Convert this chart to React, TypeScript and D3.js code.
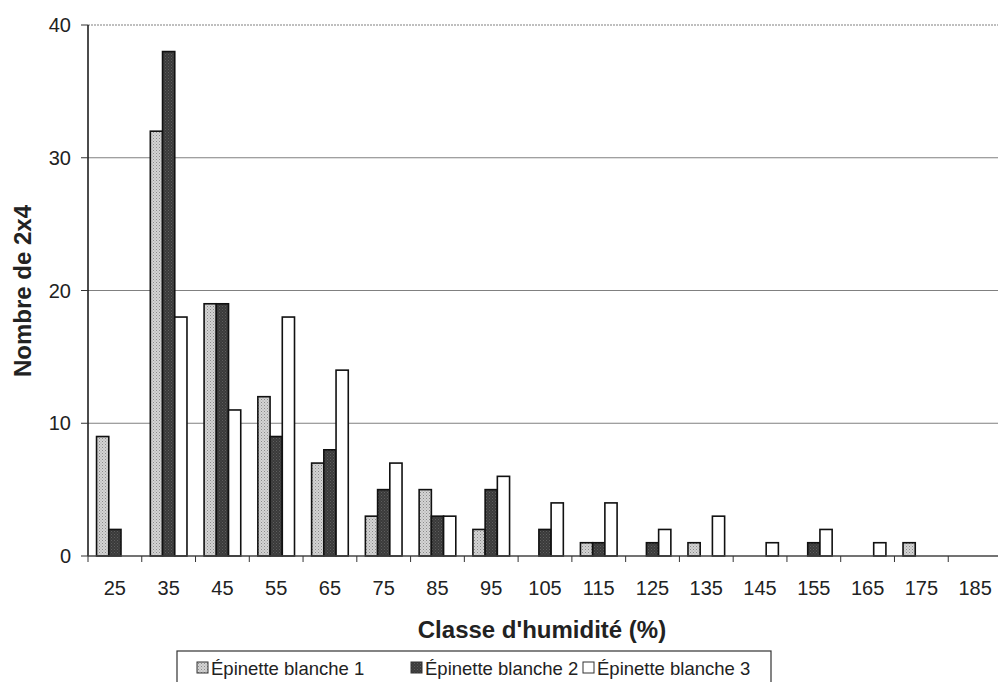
import React from "react";
import * as d3 from "d3";

const categories = ["25", "35", "45", "55", "65", "75", "85", "95", "105", "115", "125", "135", "145", "155", "165", "175", "185"];
const serie1 = [9, 32, 19, 12, 7, 3, 5, 2, 0, 1, 0, 1, 0, 0, 0, 1, 0];
const serie2 = [2, 38, 19, 9, 8, 5, 3, 5, 2, 1, 1, 0, 0, 1, 0, 0, 0];
const serie3 = [0, 18, 11, 18, 14, 7, 3, 6, 4, 4, 2, 3, 1, 2, 1, 0, 0];
const seriesNames = ["Épinette blanche 1", "Épinette blanche 2", "Épinette blanche 3"];
const yTicks = [0, 10, 20, 30, 40];

const W = 998;
const H = 682;
const left = 88;
const right = 1002;
const top = 25;
const bottom = 556;
const font = "'Liberation Sans', Arial, sans-serif";

export default function App() {
  const x = d3.scaleBand<string>().domain(categories).range([left, right]).paddingInner(0).paddingOuter(0);
  const y = d3.scaleLinear().domain([0, 40]).range([bottom, top]);
  const bw = x.bandwidth();
  const barW = bw / 4.4;
  const groupW = barW * 3;
  const series = [serie1, serie2, serie3];
  const fills = ["url(#pat1)", "url(#pat2)", "#ffffff"];

  const legendItems = [
    { x: 197, label: seriesNames[0], fill: fills[0] },
    { x: 411, label: seriesNames[1], fill: fills[1] },
    { x: 583, label: seriesNames[2], fill: fills[2] },
  ];

  return (
    <svg width={W} height={H} style={{ position: "absolute", left: 0, top: 0, background: "#fff" }} fontFamily={font}>
      <defs>
        <pattern id="pat1" width="3" height="3" patternUnits="userSpaceOnUse">
          <rect width="3" height="3" fill="#d4d4d4" />
          <rect x="0" y="0" width="1" height="1" fill="#8a8a8a" />
          <rect x="1.5" y="1.5" width="1" height="1" fill="#a0a0a0" />
        </pattern>
        <pattern id="pat2" width="3" height="3" patternUnits="userSpaceOnUse">
          <rect width="3" height="3" fill="#3a3a3a" />
          <rect x="0" y="0" width="1" height="1" fill="#5e5e5e" />
          <rect x="1.5" y="1.5" width="1" height="1" fill="#555" />
        </pattern>
      </defs>
      <rect x={0} y={0} width={W} height={H} fill="#fff" />

      {/* gridlines */}
      {yTicks.filter((t) => t > 0).map((t) => (
        <line key={t} x1={left} x2={W} y1={y(t)} y2={y(t)} stroke="#808080" strokeWidth={1.2}
          strokeDasharray={t === 40 ? "2,1" : undefined} />
      ))}

      {/* bars */}
      {series.map((s, si) =>
        s.map((v, i) =>
          v > 0 ? (
            <rect
              key={`${si}-${i}`}
              x={(x(categories[i]) as number) + (bw - groupW) / 2 + si * barW}
              y={y(v)}
              width={barW}
              height={y(0) - y(v)}
              fill={fills[si]}
              stroke="#111"
              strokeWidth={1.6}
            />
          ) : null
        )
      )}

      {/* axes */}
      <line x1={left} x2={left} y1={top} y2={bottom} stroke="#111" strokeWidth={1.5} />
      <line x1={left} x2={W} y1={bottom} y2={bottom} stroke="#444" strokeWidth={1.3} />
      {yTicks.map((t) => (
        <g key={t}>
          <line x1={left - 7} x2={left} y1={y(t)} y2={y(t)} stroke="#333" strokeWidth={1} />
          <text x={71} y={y(t) + 7} textAnchor="end" fontSize={20} fill="#222">{t}</text>
        </g>
      ))}
      {categories.map((c, i) => (
        <g key={c}>
          <line x1={x(c) as number} x2={x(c) as number} y1={bottom} y2={bottom + 6} stroke="#333" strokeWidth={1} />
          <text x={(x(c) as number) + bw / 2} y={595} textAnchor="middle" fontSize={20} fill="#222">{c}</text>
        </g>
      ))}

      {/* axis titles */}
      <text x={542} y={638} textAnchor="middle" fontSize={24} fontWeight="bold" fill="#222">Classe d'humidité (%)</text>
      <text transform={`translate(31, 291) rotate(-90)`} textAnchor="middle" fontSize={24} fontWeight="bold" fill="#222">Nombre de 2x4</text>

      {/* legend */}
      <rect x={177} y={651} width={594} height={40} fill="#fff" stroke="#333" strokeWidth={1.2} />
      {legendItems.map((it) => (
        <g key={it.label}>
          <rect x={it.x} y={662} width={11} height={11} fill={it.fill} stroke="#333" strokeWidth={1} />
          <text x={it.x + 14} y={675} fontSize={18.5} fill="#222">{it.label}</text>
        </g>
      ))}
    </svg>
  );
}
